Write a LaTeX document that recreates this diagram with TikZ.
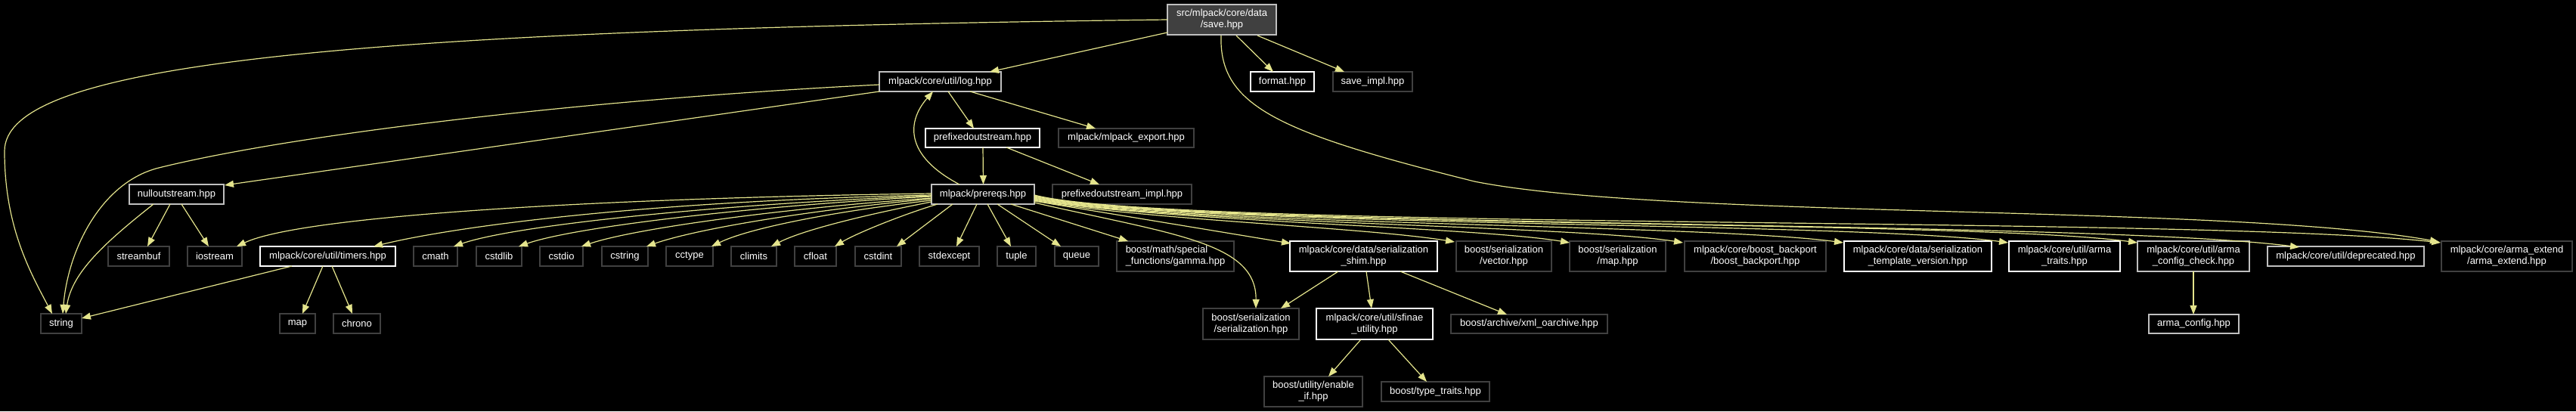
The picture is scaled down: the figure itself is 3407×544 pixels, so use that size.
\documentclass[tikz,border=0pt]{standalone}
\usepackage{fontspec}
\setmainfont{Liberation Sans}
\usetikzlibrary{arrows.meta,calc}
\definecolor{edgec}{RGB}{228,228,140}
\definecolor{srcfill}{RGB}{64,64,64}
\definecolor{brdg}{RGB}{191,191,191}
\definecolor{brdd}{RGB}{64,64,64}
\begin{document}
\begin{tikzpicture}[x=1pt,y=-1pt,
  nbox/.style={draw, line width=1.3pt, fill=black, text=white, inner sep=0pt, align=center,
    font=\fontsize{13}{15}\selectfont, minimum height=26pt},
  docw/.style={nbox, draw=white},
  docg/.style={nbox, draw=brdg},
  undoc/.style={nbox, draw=brdd},
  two/.style={minimum height=40pt},
  dep/.style={draw=edgec, line width=1.2pt, -{Triangle[length=12pt,width=9pt]}}
]
\fill[black] (0,0) rectangle (3407,544);
\useasboundingbox (0,0) rectangle (3407,544);

% row 0
\node[docg, two, fill=srcfill, minimum width=144pt] (save) at (1616,26) {src/mlpack/core/data\\/save.hpp};
% row 1
\node[docg, minimum width=161pt] (log) at (1243.5,108) {mlpack/core/util/log.hpp};
\node[docw, minimum width=84pt] (format) at (1696,108) {format.hpp};
\node[undoc, minimum width=105pt] (saveimpl) at (1815.5,108) {save\_impl.hpp};
% row 2
\node[docw, minimum width=151pt, minimum height=25pt] (pfx) at (1299.5,182.5) {prefixedoutstream.hpp};
\node[undoc, minimum width=179pt, minimum height=25pt] (mlexp) at (1489.5,182.5) {mlpack/mlpack\_export.hpp};
% row 3
\node[docg, minimum width=136pt] (prereqs) at (1300,257) {mlpack/prereqs.hpp};
\node[undoc, minimum width=184pt] (pfximpl) at (1484,257) {prefixedoutstream\_impl.hpp};
\node[docg, minimum width=125pt] (nullout) at (233.5,257) {nulloutstream.hpp};
% row 4
\node[undoc, minimum width=81pt] (streambuf) at (183.5,339) {streambuf};
\node[undoc, minimum width=72pt] (iostream) at (284,339) {iostream};
\node[docw, minimum width=179pt] (timers) at (433.5,339) {mlpack/core/util/timers.hpp};
\node[undoc, minimum width=58pt] (cmath) at (576,339) {cmath};
\node[undoc, minimum width=60pt] (cstdlib) at (660,339) {cstdlib};
\node[undoc, minimum width=57pt] (cstdio) at (742.5,339) {cstdio};
\node[undoc, minimum width=61pt] (cstring) at (826.5,339) {cstring};
\node[undoc, minimum width=62pt] (cctype) at (912,339) {cctype};
\node[undoc, minimum width=60pt] (climits) at (997,339) {climits};
\node[undoc, minimum width=55pt] (cfloat) at (1078.5,339) {cfloat};
\node[undoc, minimum width=61pt] (cstdint) at (1161.5,339) {cstdint};
\node[undoc, minimum width=79pt] (stdexcept) at (1255.5,339) {stdexcept};
\node[undoc, minimum width=51pt] (tuple) at (1344.5,339) {tuple};
\node[undoc, minimum width=58pt] (queue) at (1424,339) {queue};
\node[undoc, two, minimum width=155pt, align=left] (gamma) at (1554.5,339) {boost/math/special\\\_functions/gamma.hpp};
\node[docw, two, minimum width=195pt] (shim) at (1803.5,339) {mlpack/core/data/serialization\\\_shim.hpp};
\node[undoc, two, minimum width=126pt] (vector) at (1989,339) {boost/serialization\\/vector.hpp};
\node[undoc, two, minimum width=127pt] (bmap) at (2139.5,339) {boost/serialization\\/map.hpp};
\node[undoc, two, minimum width=187pt] (backport) at (2321.5,339) {mlpack/core/boost\_backport\\/boost\_backport.hpp};
\node[docw, two, minimum width=195pt] (tmplver) at (2536.5,339) {mlpack/core/data/serialization\\\_template\_version.hpp};
\node[docw, two, minimum width=147pt] (armatraits) at (2730.5,339) {mlpack/core/util/arma\\\_traits.hpp};
\node[docg, two, minimum width=148pt] (acc) at (2901,339) {mlpack/core/util/arma\\\_config\_check.hpp};
\node[docg, minimum width=207pt] (deprecated) at (3102.5,339) {mlpack/core/util/deprecated.hpp};
\node[undoc, two, minimum width=173pt] (armaext) at (3315.5,339) {mlpack/core/arma\_extend\\/arma\_extend.hpp};
% row 5
\node[undoc, minimum width=54pt] (string) at (81,428) {string};
\node[undoc, minimum width=47pt] (map) at (393.5,428) {map};
\node[undoc, minimum width=62pt] (chrono) at (472,428) {chrono};
\node[undoc, minimum width=127pt, minimum height=41pt] (serial) at (1654.5,428.5) {boost/serialization\\/serialization.hpp};
\node[docw, minimum width=154pt, minimum height=41pt] (sfinae) at (1818,428.5) {mlpack/core/util/sfinae\\\_utility.hpp};
\node[undoc, minimum width=207pt, minimum height=25pt] (xml) at (2022.5,428.5) {boost/archive/xml\_oarchive.hpp};
\node[docg, minimum width=119pt, minimum height=25pt] (armaconfig) at (2901.5,428.5) {arma\_config.hpp};
% row 6
\node[undoc, two, minimum width=130pt] (enableif) at (1737,518) {boost/utility/enable\\\_if.hpp};
\node[undoc, minimum width=143pt] (typetraits) at (1898.5,518) {boost/type\_traits.hpp};

% edges from save.hpp
\draw[dep] ($(save)+(-72,17)$) -- ($(log)+(65.5,-13)$);
\draw[dep] ($(save)+(19,21)$) -- ($(format)+(-12,-13)$);
\draw[dep] ($(save)+(47,21)$) -- ($(saveimpl)+(-37.5,-13)$);
\draw[dep] ($(save)+(-72,0)$) .. controls (400,40) and (6,90) .. (6,200)
   .. controls (6,300) and (40,360) .. ($(string)+(-12,-13)$);
\draw[dep] ($(save)+(-1,21)$) .. controls (1612,140) and (1690,175) .. (1950,240)
   .. controls (2200,290) and (2950,270) .. ($(armaext)+(-89.5,-19)$);

% edges from log.hpp
\draw[dep] ($(log)+(-80.5,4)$) .. controls (800,130) and (400,175) .. (210,222)
   .. controls (134,241) and (90,330) .. ($(string)+(2,-13)$);
\draw[dep] ($(log)+(-80.5,13)$) -- ($(nullout)+(63.5,-12)$);
\draw[dep] ($(log)+(10.5,13)$) -- ($(pfx)+(-11.5,-12.5)$);
\draw[dep] ($(log)+(39.5,13)$) -- ($(mlexp)+(-40.5,-12.5)$);

% prefixedoutstream
\draw[dep] ($(pfx)+(0.5,12.5)$) -- ($(prereqs)+(0.5,-13)$);
\draw[dep] ($(pfx)+(31.5,12.5)$) -- ($(pfximpl)+(-30,-13)$);

% back edge prereqs -> log
\draw[dep] ($(prereqs)+(-31,-13)$) .. controls (1195,205) and (1200,160) .. ($(log)+(-9.5,13)$);

% nulloutstream
\draw[dep] ($(nullout)+(-8.5,13)$) -- ($(streambuf)+(11.5,-13)$);
\draw[dep] ($(nullout)+(6.5,13)$) -- ($(iostream)+(-8,-13)$);
\draw[dep] ($(nullout)+(-30.5,13)$) .. controls (140,320) and (95,360) .. ($(string)+(6,-13)$);

% timers
\draw[dep] ($(timers)+(-47.5,13)$) -- ($(string)+(27,-7)$);
\draw[dep] ($(timers)+(-6.5,13)$) -- ($(map)+(6.5,-13)$);
\draw[dep] ($(timers)+(5.5,13)$) -- ($(chrono)+(-6,-13)$);

% prereqs fan to the left
\draw[dep] ($(prereqs)+(-68,-1)$) .. controls (800,262) and (400,285) .. ($(iostream)+(29,-13)$);
\draw[dep] ($(prereqs)+(-68,1)$) .. controls (850,266) and (600,300) .. ($(timers)+(60.5,-13)$);
\draw[dep] ($(prereqs)+(-68,2)$) .. controls (950,270) and (680,298) .. ($(cmath)+(24,-13)$);
\draw[dep] ($(prereqs)+(-68,3)$) .. controls (1000,272) and (760,300) .. ($(cstdlib)+(26,-13)$);
\draw[dep] ($(prereqs)+(-68,5)$) .. controls (1040,275) and (840,302) .. ($(cstdio)+(26.5,-13)$);
\draw[dep] ($(prereqs)+(-68,6)$) .. controls (1070,278) and (920,303) .. ($(cstring)+(28.5,-13)$);
\draw[dep] ($(prereqs)+(-68,8)$) .. controls (1100,280) and (990,302) .. ($(cctype)+(29,-13)$);
\draw[dep] ($(prereqs)+(-68,10)$) .. controls (1140,285) and (1060,305) .. ($(climits)+(23,-13)$);
\draw[dep] ($(prereqs)+(-60,13)$) .. controls (1190,285) and (1130,310) .. ($(cfloat)+(25.5,-13)$);
\draw[dep] ($(prereqs)+(-40,13)$) -- ($(cstdint)+(24.5,-13)$);
\draw[dep] ($(prereqs)+(-8,13)$) -- ($(stdexcept)+(9.5,-13)$);
\draw[dep] ($(prereqs)+(6,13)$) -- ($(tuple)+(-7.5,-13)$);
\draw[dep] ($(prereqs)+(19,13)$) -- ($(queue)+(-21,-13)$);
\draw[dep] ($(prereqs)+(37,13)$) -- ($(gamma)+(-62.5,-20)$);

% prereqs fan to the right
\draw[dep] ($(prereqs)+(68,11)$) .. controls (1550,310) and (1662,320) .. ($(serial)+(6.5,-20.5)$);
\draw[dep] ($(prereqs)+(68,9)$) -- ($(shim)+(-96.5,-17)$);
\draw[dep] ($(prereqs)+(68,8)$) .. controls (1500,290) and (1800,300) .. ($(vector)+(-65,-19)$);
\draw[dep] ($(prereqs)+(68,7)$) .. controls (1520,292) and (1950,300) .. ($(bmap)+(-63.5,-18)$);
\draw[dep] ($(prereqs)+(68,6)$) .. controls (1530,295) and (2080,298) .. ($(backport)+(-95.5,-18)$);
\draw[dep] ($(prereqs)+(68,5)$) .. controls (1540,298) and (2250,296) .. ($(tmplver)+(-98.5,-18)$);
\draw[dep] ($(prereqs)+(68,4)$) .. controls (1545,300) and (2450,293) .. ($(armatraits)+(-74.5,-18)$);
\draw[dep] ($(prereqs)+(68,3)$) .. controls (1550,302) and (2600,290) .. ($(acc)+(-74,-18)$);
\draw[dep] ($(prereqs)+(68,2)$) .. controls (1550,303) and (2750,290) .. ($(deprecated)+(-61.5,-12)$);
\draw[dep] ($(prereqs)+(68,1)$) .. controls (1550,305) and (2900,285) .. ($(armaext)+(-87.5,-18)$);

% serialization shim
\draw[dep] ($(shim)+(-33.5,20)$) -- ($(serial)+(39.5,-20.5)$);
\draw[dep] ($(shim)+(3.5,20)$) -- ($(sfinae)+(-4,-20.5)$);
\draw[dep] ($(shim)+(48.5,20)$) -- ($(xml)+(-29.5,-12.5)$);

% sfinae
\draw[dep] ($(sfinae)+(-18,20.5)$) -- ($(enableif)+(20,-20)$);
\draw[dep] ($(sfinae)+(18,20.5)$) -- ($(typetraits)+(-11.5,-13)$);

% arma config check
\draw[dep] ($(acc)+(0,20)$) -- ($(armaconfig)+(-0.5,-12.5)$);
\end{tikzpicture}
\end{document}
